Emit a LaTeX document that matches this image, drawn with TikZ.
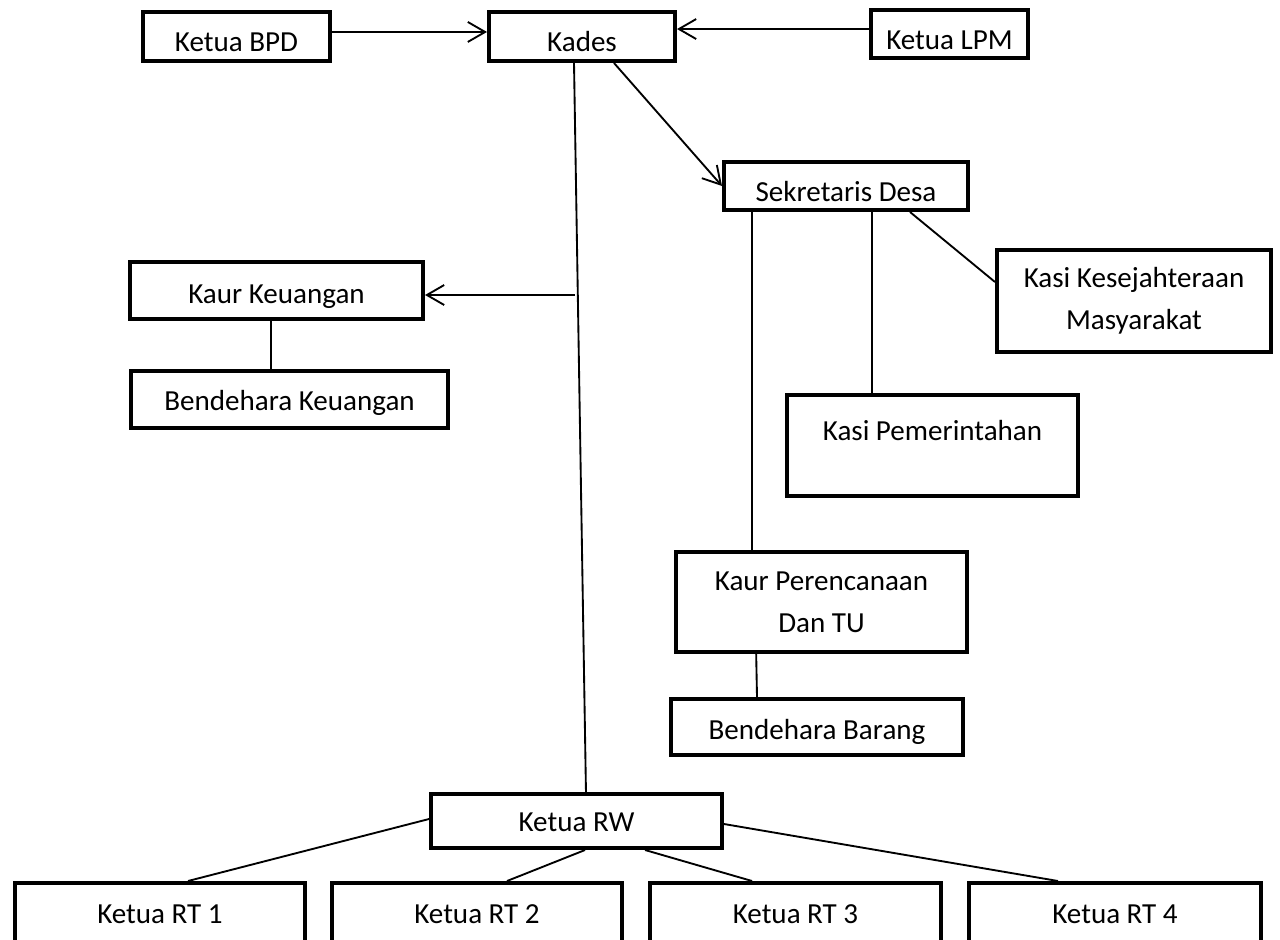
\documentclass[tikz,border=0pt]{standalone}
\usepackage{fontspec}
\setmainfont{Carlito}
\usetikzlibrary{arrows.meta}
\begin{document}
\begin{tikzpicture}[x=0.75pt,y=-0.75pt,
  bx/.style={draw, line width=3pt, inner sep=0pt, align=center,
    font=\fontsize{21.8pt}{31.5pt}\selectfont, text height=14pt, text depth=0pt},
  bxm/.style={draw, line width=3pt, inner sep=0pt, align=center,
    font=\fontsize{21.8pt}{31.5pt}\selectfont},
  sz/.style 2 args={minimum width={(#1-4)*0.75pt}, minimum height={(#2-4)*0.75pt}},
  ln/.style={line width=1.4pt},
  arr/.style={ln, -{Straight Barb[length=13pt,width=15pt,line width=1.4pt]}}]
\fill[white] (0,0) rectangle (1280,939);
\useasboundingbox (0,0) rectangle (1280,939);
\clip (0,0) rectangle (1280,939);

% nodes
\node[bx, sz={191}{53}, text height=23pt] (bpd) at (236.5,36.5) {Ketua BPD};
\node[bx, sz={190}{53}, text height=23pt] (kades) at (582,36.5) {Kades};
\node[bx, sz={161}{52}, text height=23pt] (lpm) at (949.5,34) {Ketua LPM};
\node[bx, sz={248}{52}, text height=23pt] (sek) at (846,186) {Sekretaris Desa};
\node[bx, sz={297}{61}, text height=19.2pt] (kk) at (276.5,290.5) {Kaur Keuangan};
\node[bx, sz={321}{61}, text height=17pt] (bk) at (289.5,399.5) {Bendehara Keuangan};
\node[bxm, sz={278}{106}] (kks) at (1134,301) {Kasi Kesejahteraan\\Masyarakat};
\node[bx, sz={295}{105}, text depth=21.8pt] (kpem) at (932.5,445.5) {Kasi Pemerintahan};
\node[bxm, sz={295}{104}] (kp) at (821.5,602) {Kaur Perencanaan\\Dan TU};
\node[bx, sz={296}{60}, text height=18.5pt] (bb) at (817,727) {Bendehara Barang};
\node[bx, sz={295}{58}, text height=16.2pt] (rw) at (576.5,821) {Ketua RW};
\node[bx, sz={294}{66}] (rt1) at (160,914) {Ketua RT 1};
\node[bx, sz={294}{66}] (rt2) at (477,914) {Ketua RT 2};
\node[bx, sz={295}{66}] (rt3) at (795.5,914) {Ketua RT 3};
\node[bx, sz={296}{66}] (rt4) at (1115,914) {Ketua RT 4};

% top arrows
\draw[arr] ([yshift=3.4pt]bpd.east) -- ([yshift=3.4pt]kades.west);
\draw[arr] ([yshift=3.75pt]lpm.west) -- ([yshift=5.6pt]kades.east);
\draw[arr] ([xshift=24pt]kades.south) -- (sek.west);

% Kades main line
\draw[ln] ([xshift=-6pt]kades.south) -- ([xshift=7.1pt]rw.north);
\coordinate (kj) at (575,295);
\draw[arr] (kj) -- (kk.east |- kj);

% Kaur Keuangan - Bendehara Keuangan
\path ([xshift=-4pt]kk.south) coordinate (kkb);
\draw[ln] (kkb) -- (kkb |- bk.north);

% Sekretaris branches
\path ([xshift=-70.5pt]sek.south) coordinate (sl);
\draw[ln] (sl) -- (sl |- kp.north);
\path ([xshift=19.5pt]sek.south) coordinate (sm);
\draw[ln] (sm) -- (sm |- kpem.north);
\draw[ln] ([xshift=48pt]sek.south) -- ([yshift=14.25pt]kks.west);

% Kaur Perencanaan - Bendehara Barang
\draw[ln] ([xshift=-49pt]kp.south) -- ([xshift=-45pt]bb.north);

% RW to RTs
\draw[ln] ([yshift=1.5pt]rw.west) -- ([xshift=21pt]rt1.north);
\draw[ln] ([xshift=6.4pt]rw.south) -- ([xshift=22.5pt]rt2.north);
\draw[ln] ([xshift=51.4pt]rw.south) -- ([xshift=-32.6pt]rt3.north);
\draw[ln] ([yshift=-2.25pt]rw.east) -- ([xshift=-42.75pt]rt4.north);
\end{tikzpicture}
\end{document}
